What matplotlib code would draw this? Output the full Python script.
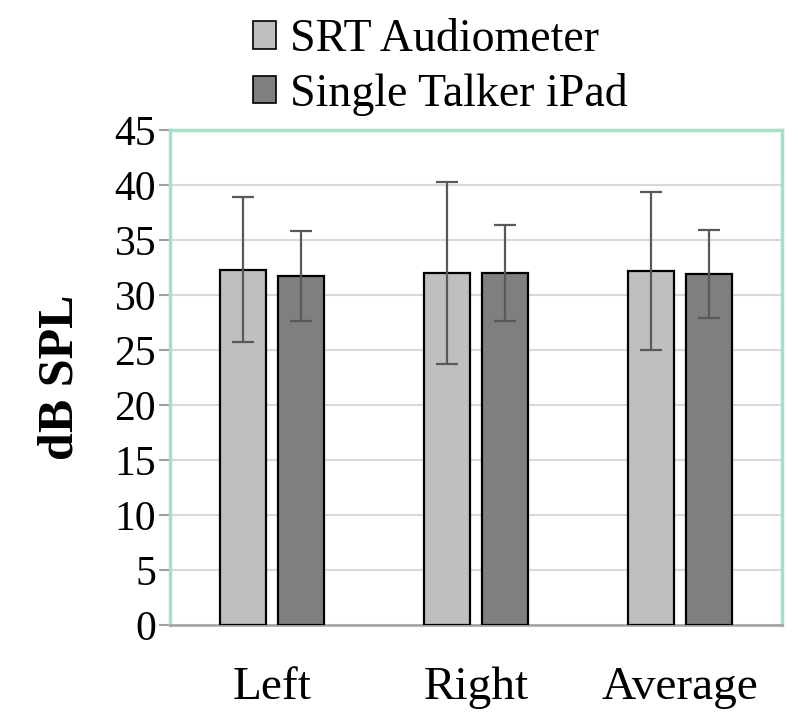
import numpy as np
import matplotlib.pyplot as plt
from matplotlib.patches import Patch

categories = ['Left', 'Right', 'Average']
srt_mean = [32.3, 32.0, 32.2]
srt_err = [6.6, 8.3, 7.2]
ipad_mean = [31.7, 32.0, 31.9]
ipad_err = [4.1, 4.4, 4.0]
series_names = ['SRT Audiometer', 'Single Talker iPad']

plt.rcParams['font.family'] = ['Liberation Serif', 'DejaVu Serif']

fig = plt.figure(figsize=(8, 7.26), dpi=100)
ax = fig.add_axes([0.2125, 0.139, 0.765, 0.682])

x = np.arange(len(categories))
w = 0.23
gap = 0.027
ekw = dict(ecolor='#595959', elinewidth=1.6, capsize=8, capthick=1.6)

ax.bar(x - w / 2 - gap, srt_mean, w, yerr=srt_err, color='#bfbfbf',
       edgecolor='black', linewidth=1.6, error_kw=ekw, zorder=3)
ax.bar(x + w / 2 + gap, ipad_mean, w, yerr=ipad_err, color='#7f7f7f',
       edgecolor='black', linewidth=1.6, error_kw=ekw, zorder=3)

ax.set_xlim(-0.5, 2.5)
ax.set_ylim(0, 45)
ax.set_yticks(np.arange(0, 46, 5))
ax.set_xticks(x)
ax.set_xticklabels(categories, fontsize=34)
ax.tick_params(axis='x', length=0, pad=30)
ax.tick_params(axis='y', labelsize=30, length=8, width=1.5, color='#a0a0a0', pad=2)
ax.yaxis.grid(True, color='#d9d9d9', linewidth=1.5, zorder=0)
ax.set_axisbelow(True)

for s in ['top', 'right', 'left']:
    ax.spines[s].set_color('#a8dfc6')
    ax.spines[s].set_linewidth(2.5)
ax.spines['bottom'].set_color('#a0a0a0')
ax.spines['bottom'].set_linewidth(1.8)

ax.set_ylabel('dB SPL', fontsize=36, fontweight='bold', labelpad=22)

handles = [Patch(facecolor='#bfbfbf', edgecolor='black', linewidth=1.2),
           Patch(facecolor='#7f7f7f', edgecolor='black', linewidth=1.2)]
fig.legend(handles, series_names, loc='upper center', bbox_to_anchor=(0.55, 1.012),
           frameon=False, fontsize=33, handlelength=0.5, handleheight=0.55,
           handletextpad=0.3, labelspacing=0.25, borderaxespad=0.2)

plt.savefig('out.png', dpi=100)
